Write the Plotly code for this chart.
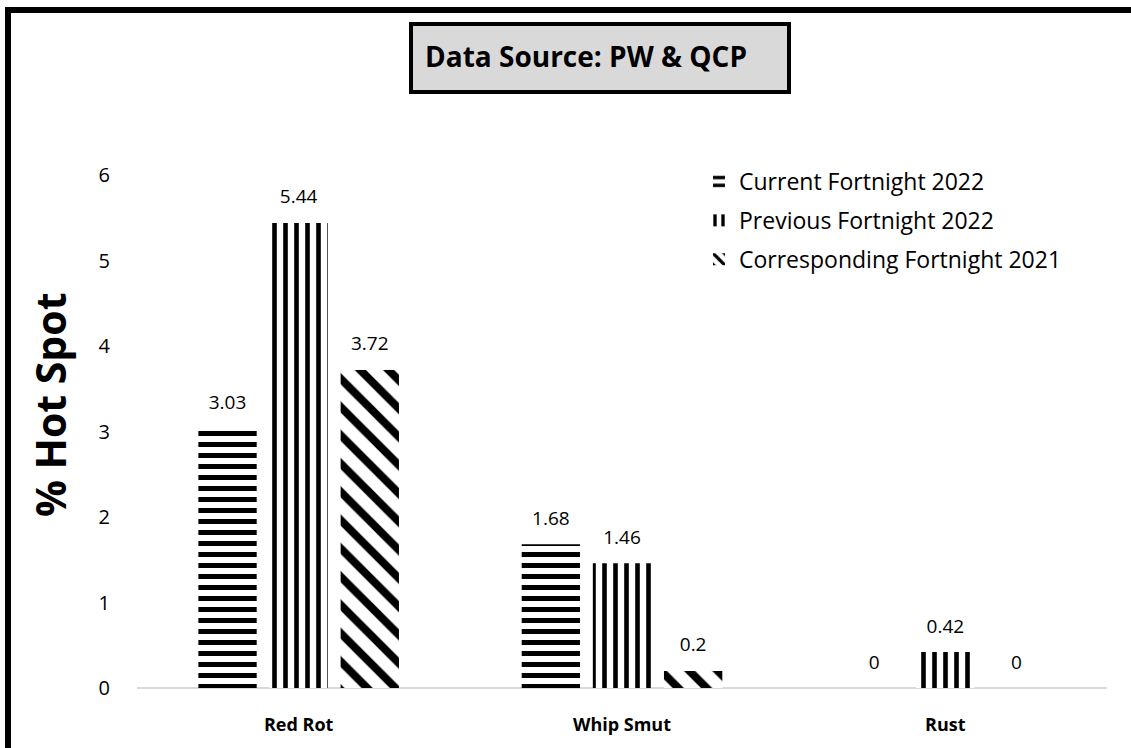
import plotly.graph_objects as go

categories = ["Red Rot", "Whip Smut", "Rust"]
series_names = ["Current Fortnight 2022", "Previous Fortnight 2022", "Corresponding Fortnight 2021"]
current_2022 = [3.03, 1.68, 0]
previous_2022 = [5.44, 1.46, 0.42]
corresponding_2021 = [3.72, 0.2, 0]
y_ticks = [0, 1, 2, 3, 4, 5, 6]

FONT = "Open Sans"
values = [current_2022, previous_2022, corresponding_2021]
patterns = [dict(shape="-", size=11, solidity=0.45),
            dict(shape="|", size=11, solidity=0.42),
            dict(shape="\\", size=20, solidity=0.4)]

GAP = 0.34
fig = go.Figure()
for i, (name, vals, pat) in enumerate(zip(series_names, values, patterns)):
    fig.add_trace(go.Bar(
        name=name, x=categories, y=vals,
        offsetgroup=str(i), legendgroup=f"g{i}",
        hoverinfo="skip",
        marker=dict(color="white", line=dict(width=0),
                    pattern=dict(fgcolor="black", bgcolor="white", fillmode="replace", **pat)),
    ))
for i, vals in enumerate(values):
    fig.add_trace(go.Scatter(
        x=categories, y=vals, offsetgroup=str(i), showlegend=False,
        mode="markers+text", text=[f"{v:g}" for v in vals], textposition="top center",
        textfont=dict(family=FONT, size=19, color="black"),
        marker=dict(size=22, opacity=0), cliponaxis=False, hoverinfo="skip",
    ))

W, H = 1131, 748
L, R, T, B = 137, 24, 175, 60
pw, ph = W - L - R, H - T - B

def px(x):
    return (x - L) / pw

def py(y):
    return (H - B - y) / ph

shapes = [
    dict(type="rect", xref="paper", yref="paper", x0=px(8), x1=1.2, y0=-0.3, y1=py(10),
         line=dict(color="black", width=6), fillcolor="rgba(0,0,0,0)", layer="above"),
    dict(type="rect", xref="paper", yref="paper", x0=px(411), x1=px(789), y0=py(92), y1=py(24),
         line=dict(color="black", width=4), fillcolor="#d9d9d9", layer="below"),
]

annotations = [
    dict(text="<b>Data Source: PW &amp; QCP</b>", xref="paper", yref="paper",
         x=px(586), y=py(56), showarrow=False, xanchor="center", yanchor="middle",
         font=dict(family=FONT, size=28, color="black")),
    dict(text="<b>% Hot Spot</b>", xref="paper", yref="paper",
         x=px(50), y=py(405), showarrow=False, textangle=-90, xanchor="center", yanchor="middle",
         font=dict(family=FONT, size=41, color="black")),
]

fig.update_layout(
    width=W, height=H,
    margin=dict(l=L, r=R, t=T, b=B, autoexpand=False),
    paper_bgcolor="white", plot_bgcolor="white",
    barmode="group", bargap=GAP, bargroupgap=0.18,
    scattermode="group", scattergap=GAP,
    showlegend=True, hovermode=False,
    legend=dict(x=px(699), y=py(160), xanchor="left", yanchor="top",
                font=dict(family=FONT, size=23, color="black"),
                tracegroupgap=6, bgcolor="rgba(0,0,0,0)"),
    shapes=shapes, annotations=annotations,
    font=dict(family=FONT, color="black"),
)
fig.update_xaxes(showgrid=False, showline=False, ticks="",
                 tickfont=dict(family=FONT, size=18, color="black"),
                 ticklabelstandoff=24,
                 tickvals=categories, ticktext=[f"<b>{c}</b>" for c in categories])
fig.update_yaxes(range=[0, 6], tickvals=y_ticks, showgrid=False, showline=False,
                 zeroline=True, zerolinecolor="#d9d9d9", zerolinewidth=2,
                 tickfont=dict(family=FONT, size=20, color="black"),
                 ticklabelstandoff=26)

fig.write_html("out.html", config={"displayModeBar": False},
               post_script="document.body.style.margin='0';")
